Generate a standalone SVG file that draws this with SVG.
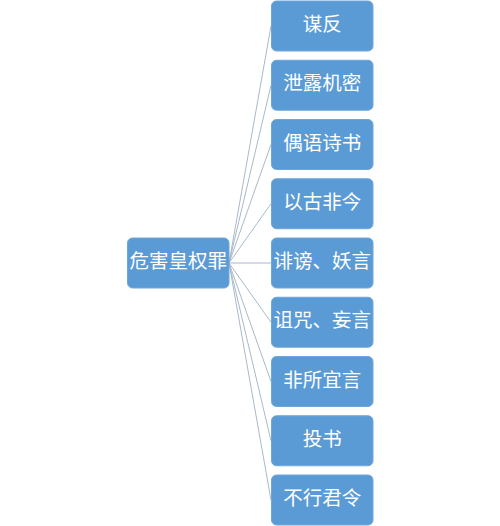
<svg xmlns="http://www.w3.org/2000/svg" width="500" height="526" viewBox="0 0 500 526">
<style>
.box{fill:#5b9bd5;stroke:#6ea6dc;stroke-width:1}
.t{fill:#ffffff;font-family:"Noto Sans CJK SC","Noto Sans",sans-serif;font-size:19.5px;text-anchor:middle}
.c{stroke:#a9b8ca;stroke-width:1;fill:none}
</style>
<rect width="500" height="526" fill="#ffffff"/>
<g id="connectors">
<line class="c" x1="229" y1="263" x2="271" y2="26"/>
<line class="c" x1="229" y1="263" x2="271" y2="85.25"/>
<line class="c" x1="229" y1="263" x2="271" y2="144.5"/>
<line class="c" x1="229" y1="263" x2="271" y2="203.75"/>
<line class="c" x1="229" y1="263" x2="271" y2="263"/>
<line class="c" x1="229" y1="263" x2="271" y2="322.25"/>
<line class="c" x1="229" y1="263" x2="271" y2="381.5"/>
<line class="c" x1="229" y1="263" x2="271" y2="440.75"/>
<line class="c" x1="229" y1="263" x2="271" y2="500"/>
</g>
<g id="root"><rect class="box" x="127.5" y="238" width="101.5" height="50" rx="5"/><text class="t" x="178.25" y="268">危害皇权罪</text></g>
<g id="n1"><rect class="box" x="271.5" y="1" width="101.5" height="50" rx="5"/><text class="t" x="322.25" y="31">谋反</text></g>
<g id="n2"><rect class="box" x="271.5" y="60.25" width="101.5" height="50" rx="5"/><text class="t" x="322.25" y="90.25">泄露机密</text></g>
<g id="n3"><rect class="box" x="271.5" y="119.5" width="101.5" height="50" rx="5"/><text class="t" x="322.25" y="149.5">偶语诗书</text></g>
<g id="n4"><rect class="box" x="271.5" y="178.75" width="101.5" height="50" rx="5"/><text class="t" x="322.25" y="208.75">以古非今</text></g>
<g id="n5"><rect class="box" x="271.5" y="238" width="101.5" height="50" rx="5"/><text class="t" x="322.25" y="268">诽谤、妖言</text></g>
<g id="n6"><rect class="box" x="271.5" y="297.25" width="101.5" height="50" rx="5"/><text class="t" x="322.25" y="327.25">诅咒、妄言</text></g>
<g id="n7"><rect class="box" x="271.5" y="356.5" width="101.5" height="50" rx="5"/><text class="t" x="322.25" y="386.5">非所宜言</text></g>
<g id="n8"><rect class="box" x="271.5" y="415.75" width="101.5" height="50" rx="5"/><text class="t" x="322.25" y="445.75">投书</text></g>
<g id="n9"><rect class="box" x="271.5" y="475" width="101.5" height="50" rx="5"/><text class="t" x="322.25" y="505">不行君令</text></g>
</svg>
